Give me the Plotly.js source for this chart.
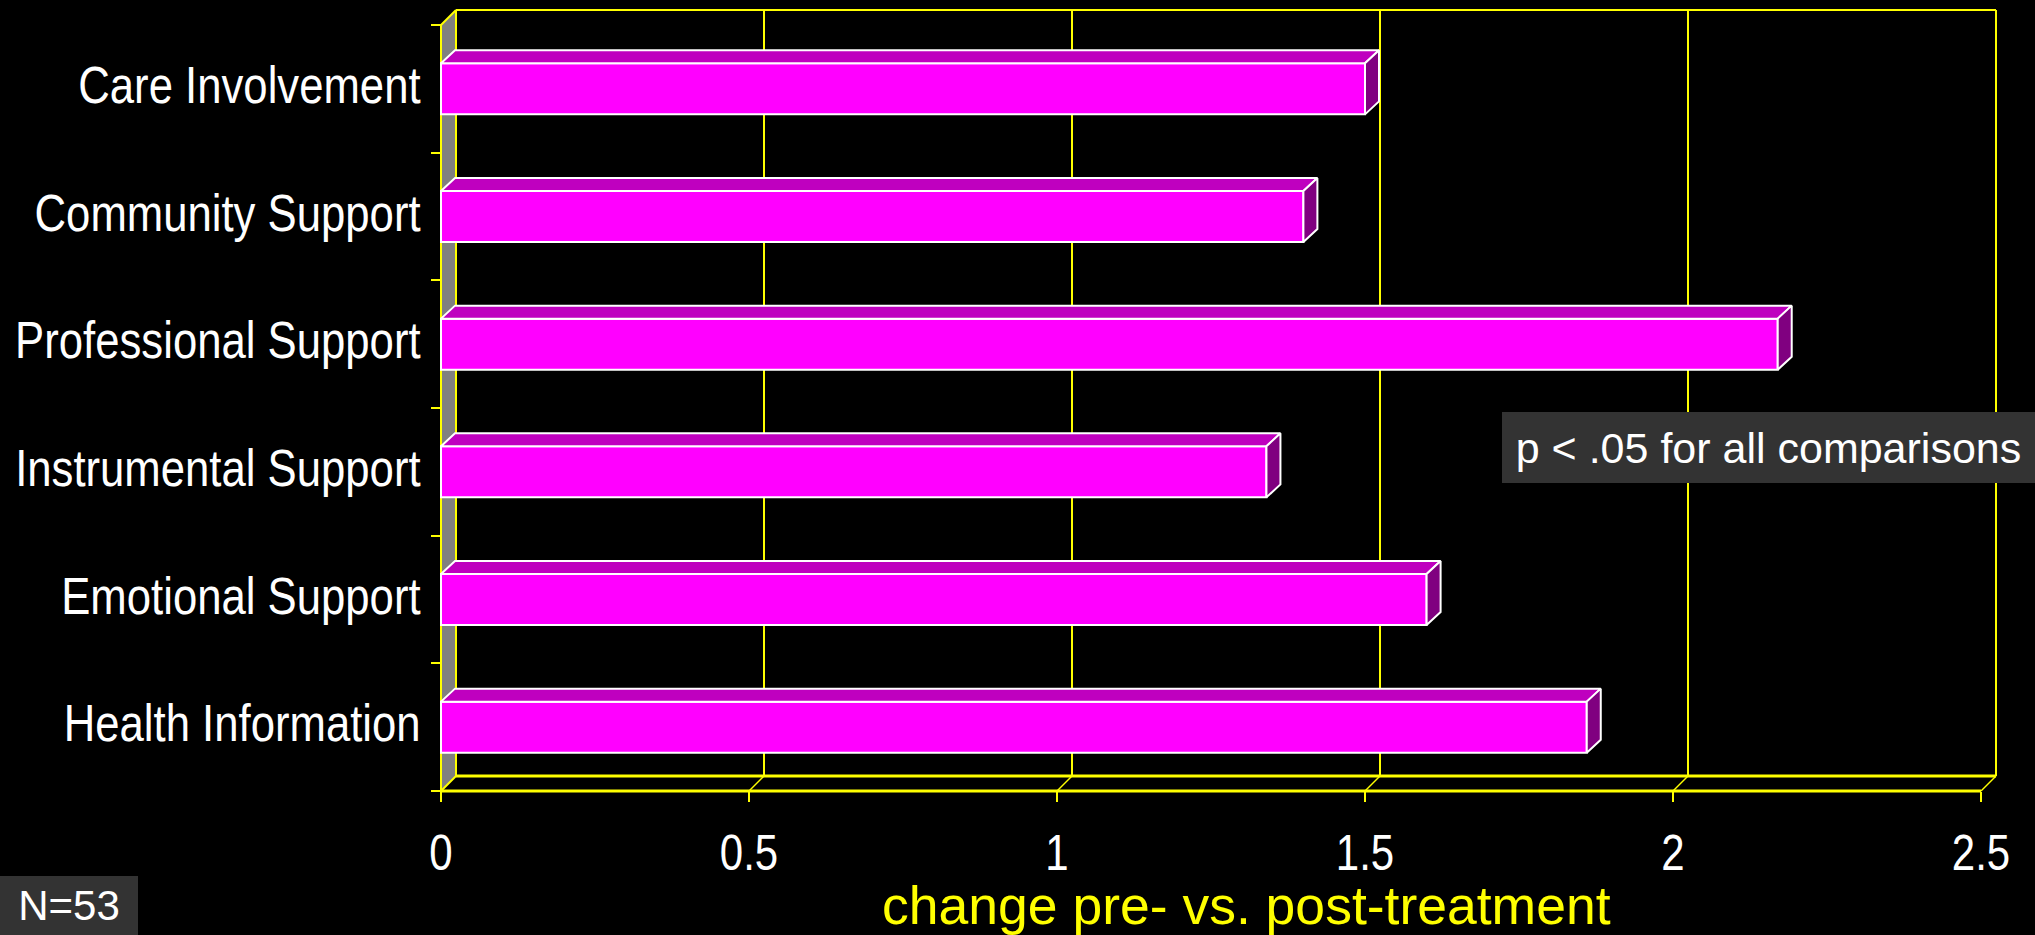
<!DOCTYPE html>
<html>
<head>
<meta charset="utf-8">
<script src="https://cdn.plot.ly/plotly-3.0.1.min.js"></script>
<style>
  html, body { margin: 0; padding: 0; background: #000; overflow: hidden; }
  #chart { width: 2035px; height: 935px; }
</style>
</head>
<body>
<div id="chart"></div>
<script>
// Support domains, listed from the bottom row to the top row
const categories = [
  'Health Information',
  'Emotional Support',
  'Instrumental Support',
  'Professional Support',
  'Community Support',
  'Care Involvement'
];
// Mean change, pre- vs. post-treatment
const changeScores = [1.86, 1.6, 1.34, 2.17, 1.4, 1.5];
const xTickValues = [0, 0.5, 1, 1.5, 2, 2.5];
const xTickLabels = ['0', '0.5', '1', '1.5', '2', '2.5'];
const axisTitle = 'change pre- vs. post-treatment';
const sampleNote = 'N=53';
const significanceNote = 'p < .05 for all comparisons';

// ---- page and 3-D box geometry (pixels) ----
const W = 2035, H = 935;
const PAD = 4;                 // room so edge strokes are not clipped
const FRONT_W = 1540;          // width of the front plane
const FRONT_H = 766;           // height of the front plane
const WALL_DEPTH = 15;         // back wall offset, right and up
const BAR_DEPTH_X = 14, BAR_DEPTH_Y = 13;
const M = { l: 441 - PAD, r: W - 441 - FRONT_W - WALL_DEPTH - PAD, t: 10 - PAD, b: H - 791 - PAD };
const plotW = W - M.l - M.r;
const plotH = H - M.t - M.b;

const X_MAX = xTickValues[xTickValues.length - 1];
const pxPerX = FRONT_W / X_MAX;
const pxPerY = FRONT_H / categories.length;
const DX = WALL_DEPTH / pxPerX, DY = WALL_DEPTH / pxPerY;
const BDX = BAR_DEPTH_X / pxPerX, BDY = BAR_DEPTH_Y / pxPerY;
const BAR_W = 0.4;
const yLo = -0.5, yHi = categories.length - 0.5;
const rows = categories.map((_, i) => i);

const YELLOW = '#FFFF00';
const REGULAR = '"Liberation Sans", Arial, sans-serif';
const NARROW_FACTOR = 0.84;    // horizontal squeeze giving a narrow face for axis labels

// ---- 3-D faces of the bars, built from the values ----
const topX = [], topY = [], sideX = [], sideY = [];
changeScores.forEach((v, i) => {
  const y1 = i + BAR_W / 2, y0 = i - BAR_W / 2;
  topX.push(0, BDX, v + BDX, v, 0, null);
  topY.push(y1, y1 + BDY, y1 + BDY, y1, y1, null);
  sideX.push(v, v + BDX, v + BDX, v, v, null);
  sideY.push(y0, y0 + BDY, y1 + BDY, y1, y0, null);
});

const traces = [
  {
    type: 'bar', orientation: 'h',
    x: changeScores, y: rows, width: BAR_W,
    marker: { color: '#FF00FF', line: { color: '#FFFFFF', width: 2 } },
    hoverinfo: 'skip', showlegend: false
  },
  {
    type: 'scatter', mode: 'lines', x: topX, y: topY, fill: 'toself',
    fillcolor: '#BF00BF', line: { color: '#FFFFFF', width: 2 },
    hoverinfo: 'skip', showlegend: false
  },
  {
    type: 'scatter', mode: 'lines', x: sideX, y: sideY, fill: 'toself',
    fillcolor: '#800080', line: { color: '#FFFFFF', width: 2 },
    hoverinfo: 'skip', showlegend: false
  }
];

// ---- walls, floor and back gridlines ----
function seg(x0, y0, x1, y1, width) {
  return { type: 'line', xref: 'x', yref: 'y', x0, y0, x1, y1,
           line: { color: YELLOW, width }, layer: 'below' };
}
const shapes = [];
// left side wall
shapes.push({
  type: 'path', xref: 'x', yref: 'y', layer: 'below',
  path: `M 0,${yLo} L ${DX},${yLo + DY} L ${DX},${yHi + DY} L 0,${yHi} Z`,
  fillcolor: '#808080', line: { width: 0 }
});
// back gridlines
xTickValues.forEach(v => {
  if (v > 0 && v < X_MAX) shapes.push(seg(v + DX, yLo + DY, v + DX, yHi + DY, 2));
});
// back wall frame
shapes.push(seg(DX, yLo + DY, DX, yHi + DY, 2));
shapes.push(seg(DX, yHi + DY, X_MAX + DX, yHi + DY, 2));
shapes.push(seg(X_MAX + DX, yLo + DY, X_MAX + DX, yHi + DY, 2));
// front left edge and top of the side wall
shapes.push(seg(0, yLo, 0, yHi, 2));
shapes.push(seg(0, yHi, DX, yHi + DY, 2));
// floor
xTickValues.forEach(v => shapes.push(seg(v, yLo, v + DX, yLo + DY, v === 0 ? 2 : 1.5)));
shapes.push(seg(DX, yLo + DY, X_MAX + DX, yLo + DY, 3));
shapes.push(seg(0, yLo, X_MAX, yLo, 3));

// pixel -> paper helpers for the free-standing labels
const paperX = px => (px - M.l) / plotW;
const paperY = py => (H - M.b - py) / plotH;

const annotations = [
  {
    xref: 'paper', yref: 'paper', x: paperX(1246), y: paperY(905),
    xanchor: 'center', yanchor: 'middle', showarrow: false,
    text: axisTitle, font: { family: REGULAR, size: 53.5, color: YELLOW }
  },
  {
    xref: 'paper', yref: 'paper', x: paperX(0), y: paperY(935),
    xanchor: 'left', yanchor: 'bottom', showarrow: false,
    width: 138, height: 59, borderpad: 0, borderwidth: 0,
    bgcolor: '#333333', align: 'center', valign: 'middle',
    text: sampleNote, font: { family: REGULAR, size: 42, color: '#FFFFFF' }
  },
  {
    xref: 'paper', yref: 'paper', x: paperX(1502), y: paperY(412),
    xanchor: 'left', yanchor: 'top', showarrow: false,
    width: 533, height: 71, borderpad: 0, borderwidth: 0,
    bgcolor: '#333333', align: 'center', valign: 'middle',
    text: significanceNote, font: { family: REGULAR, size: 43, color: '#FFFFFF' }
  }
];

const layout = {
  width: W, height: H,
  margin: M,
  paper_bgcolor: '#000000', plot_bgcolor: '#000000',
  showlegend: false,
  xaxis: {
    range: [-PAD / pxPerX, X_MAX + (WALL_DEPTH + PAD) / pxPerX],
    anchor: 'free', position: PAD / plotH,
    tickmode: 'array', tickvals: xTickValues, ticktext: xTickLabels,
    ticks: 'outside', ticklen: 10, tickwidth: 2, tickcolor: YELLOW,
    showgrid: false, zeroline: false, showline: false,
    tickfont: { family: REGULAR, size: 50, color: '#FFFFFF' },
    ticklabelstandoff: 8,
    fixedrange: true
  },
  yaxis: {
    range: [yLo - PAD / pxPerY, yHi + (WALL_DEPTH + PAD) / pxPerY],
    anchor: 'free', position: PAD / plotW,
    tickmode: 'array', tickvals: rows, ticktext: categories,
    ticks: 'outside', ticklen: 10, tickcolor: 'rgba(0,0,0,0)',
    minor: {
      tickmode: 'array',
      tickvals: rows.map(i => i - 0.5).concat([yHi]),
      ticks: 'outside', ticklen: 10, tickwidth: 2, tickcolor: YELLOW, showgrid: false
    },
    showgrid: false, zeroline: false, showline: false,
    tickfont: { family: REGULAR, size: 52, color: '#FFFFFF' },
    ticklabelstandoff: 0,
    ticklabelshift: -4,
    fixedrange: true
  },
  shapes, annotations
};

// Axis labels are set in a narrow face: squeeze each label's glyphs in place.
function narrowAxisLabels() {
  document.querySelectorAll('#chart .xtick text, #chart .ytick text').forEach(t => {
    const natural = t.getComputedTextLength();
    if (natural > 0) {
      t.setAttribute('textLength', (natural * NARROW_FACTOR).toFixed(2));
      t.setAttribute('lengthAdjust', 'spacingAndGlyphs');
    }
  });
}

Plotly.newPlot('chart', traces, layout, { staticPlot: true, displayModeBar: false })
  .then(narrowAxisLabels);
</script>
</body>
</html>
